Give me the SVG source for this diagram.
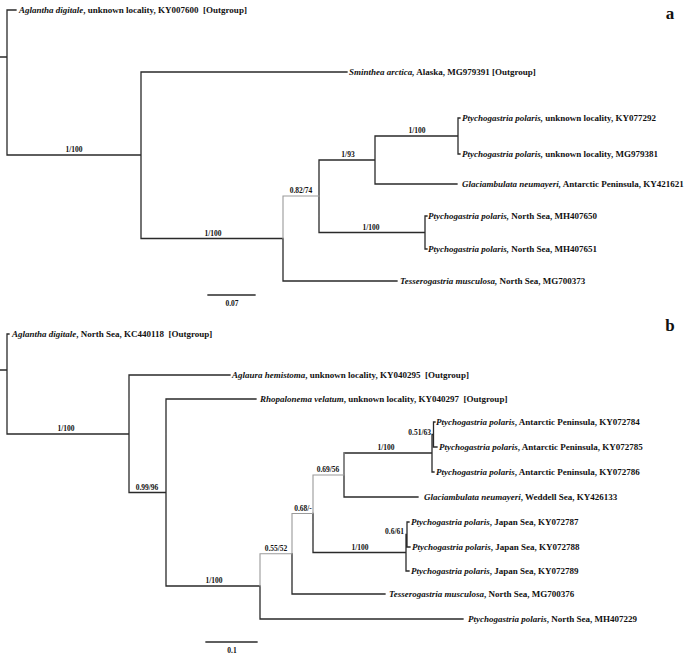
<svg xmlns="http://www.w3.org/2000/svg" width="685" height="660" viewBox="0 0 685 660">
<style>
.b{stroke:#2a2a2a;stroke-width:1.3;fill:none;stroke-linecap:square}
.g{stroke:#9a9a9a;stroke-width:1.1;fill:none;stroke-linecap:square}
.t{font-family:"Liberation Serif","Times New Roman",serif;font-size:9px;font-weight:bold;fill:#111111}
.i{font-style:italic}
.s{font-family:"Liberation Serif","Times New Roman",serif;font-size:7.5px;font-weight:bold;fill:#111111;text-anchor:middle}
.p{font-family:"Liberation Serif","Times New Roman",serif;font-size:17px;font-weight:bold;fill:#111111;text-anchor:middle}
</style>
<rect width="685" height="660" fill="#ffffff"/>
<g id="connectors">
<path class="b" d="M0 57H7M7 10V155M7 10H16M7 155H141M141 72V238.5M141 72H347M141 238.5H283M283 238.5V281M283 281H397M319 160V232.5M319 160H375M375 136V184M375 184H457M375 136H458M458 118V154M458 118H460M458 154H460M319 232.5H425M425 216V249M425 216H427M425 249H427"/>
<path class="g" d="M283 196V238.5M283 196H319"/>
<path class="b" d="M0 370H7M7 334V434M7 334H9M7 434H129M129 375V492.5M129 375H230M129 492.5H166M166 399V586M166 399H256M166 586H260M260 586V619M260 619H463M292 553.7V594M292 594H385M313 513.5V552.5M344 453V497M344 497H418M344 453H432M432 434.5V472M432 472H434M432 434.5H433.5M433.5 422V447M433.5 422H435M433.5 447H437M313 552.5H406M406 534.5V571M406 571H409M406 534.5H407M407 522V547M407 522H409M407 547H410"/>
<path class="g" d="M260 553.7V586M260 553.7H292M292 513.5V553.7M292 513.5H313M313 475V513.5M313 475H344M344 475V453"/>
</g>
<g id="support-labels">
<text class="s" x="74" y="152">1/100</text>
<text class="s" x="213" y="235.5">1/100</text>
<text class="s" x="301" y="193">0.82/74</text>
<text class="s" x="348" y="157">1/93</text>
<text class="s" x="417" y="133">1/100</text>
<text class="s" x="371" y="229.5">1/100</text>
<text class="s" x="66" y="431">1/100</text>
<text class="s" x="147" y="489.5">0.99/96</text>
<text class="s" x="214" y="583">1/100</text>
<text class="s" x="276" y="550.5">0.55/52</text>
<text class="s" x="303" y="510.5">0.68/-</text>
<text class="s" x="328" y="472">0.69/56</text>
<text class="s" x="386" y="450">1/100</text>
<text class="s" x="360" y="549.5">1/100</text>
<text class="s" x="431" y="435" style="text-anchor:end">0.51/63</text>
<text class="s" x="404" y="533.5" style="text-anchor:end">0.6/61</text>
</g>
<g id="panel-labels">
<text class="p" x="670" y="19">a</text>
<text class="p" x="670" y="331">b</text>
</g>
<g id="scale-a">
<path class="b" d="M208 295H255"/>
<text class="s" x="232" y="306">0.07</text>
</g>
<g id="scale-b">
<path class="b" d="M206 642H257"/>
<text class="s" x="232" y="652.5">0.1</text>
</g>
<g id="a-aglantha"><text class="t" x="19" y="13" xml:space="preserve"><tspan class="i">Aglantha digitale</tspan>, unknown locality, KY007600  [Outgroup]</text></g>
<g id="a-sminthea"><text class="t" x="349" y="75"><tspan class="i">Sminthea arctica,</tspan> Alaska, MG979391 [Outgroup]</text></g>
<g id="a-ptycho-KY077292"><text class="t" x="462" y="121"><tspan class="i">Ptychogastria polaris,</tspan> unknown locality, KY077292</text></g>
<g id="a-ptycho-MG979381"><text class="t" x="462" y="157"><tspan class="i">Ptychogastria polaris,</tspan> unknown locality, MG979381</text></g>
<g id="a-glaciambulata"><text class="t" x="462" y="187"><tspan class="i">Glaciambulata neumayeri,</tspan> Antarctic Peninsula, KY421621</text></g>
<g id="a-ptycho-MH407650"><text class="t" x="428" y="219"><tspan class="i">Ptychogastria polaris,</tspan> North Sea, MH407650</text></g>
<g id="a-ptycho-MH407651"><text class="t" x="428" y="252"><tspan class="i">Ptychogastria polaris,</tspan> North Sea, MH407651</text></g>
<g id="a-tesserogastria"><text class="t" x="400" y="284"><tspan class="i">Tesserogastria musculosa,</tspan> North Sea, MG700373</text></g>
<g id="b-aglantha"><text class="t" x="12" y="337" xml:space="preserve"><tspan class="i">Aglantha digitale</tspan>, North Sea, KC440118  [Outgroup]</text></g>
<g id="b-aglaura"><text class="t" x="232" y="378" xml:space="preserve"><tspan class="i">Aglaura hemistoma</tspan>, unknown locality, KY040295  [Outgroup]</text></g>
<g id="b-rhopalonema"><text class="t" x="260" y="402" xml:space="preserve"><tspan class="i">Rhopalonema velatum</tspan>, unknown locality, KY040297  [Outgroup]</text></g>
<g id="b-ptycho-KY072784"><text class="t" x="436" y="425"><tspan class="i">Ptychogastria polaris</tspan>, Antarctic Peninsula, KY072784</text></g>
<g id="b-ptycho-KY072785"><text class="t" x="439" y="450"><tspan class="i">Ptychogastria polaris</tspan>, Antarctic Peninsula, KY072785</text></g>
<g id="b-ptycho-KY072786"><text class="t" x="436" y="475"><tspan class="i">Ptychogastria polaris</tspan>, Antarctic Peninsula, KY072786</text></g>
<g id="b-glaciambulata"><text class="t" x="424" y="500"><tspan class="i">Glaciambulata neumayeri</tspan>, Weddell Sea, KY426133</text></g>
<g id="b-ptycho-KY072787"><text class="t" x="411" y="525"><tspan class="i">Ptychogastria polaris</tspan>, Japan Sea, KY072787</text></g>
<g id="b-ptycho-KY072788"><text class="t" x="412" y="550"><tspan class="i">Ptychogastria polaris</tspan>, Japan Sea, KY072788</text></g>
<g id="b-ptycho-KY072789"><text class="t" x="411" y="574"><tspan class="i">Ptychogastria polaris</tspan>, Japan Sea, KY072789</text></g>
<g id="b-tesserogastria"><text class="t" x="389" y="597"><tspan class="i">Tesserogastria musculosa</tspan>, North Sea, MG700376</text></g>
<g id="b-ptycho-MH407229"><text class="t" x="468" y="622"><tspan class="i">Ptychogastria polaris</tspan>, North Sea, MH407229</text></g>
</svg>
